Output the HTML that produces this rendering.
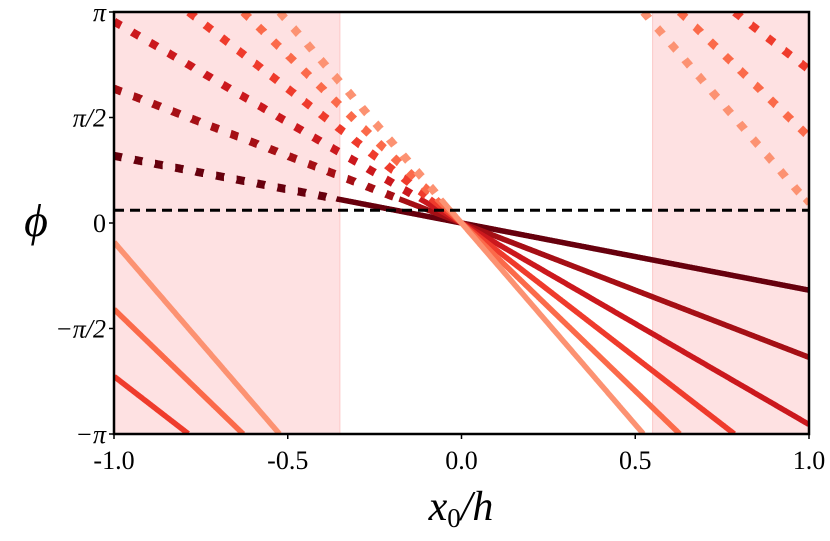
<!DOCTYPE html>
<html><head><meta charset="utf-8"><style>
body{margin:0;background:#fff}
svg text{font-family:"Liberation Serif",serif;fill:#000}
</style></head><body>
<svg width="830" height="536">
<g id="plot"></g>
</svg>
<script>
const slopes=[1,2,3,4,5,6];
const colors=["#67000d","#a50f15","#cb181d","#ef3b2c","#fb6a4a","#fc9272"];
const shadeRanges=[[-1,-0.35],[0.55,1]];
const refLevel=0.19;
const xTicks=[-1,-0.5,0,0.5,1];
const xTickLabels=["-1.0","-0.5","0.0","0.5","1.0"];
const yTicks=[Math.PI,Math.PI/2,0,-Math.PI/2,-Math.PI];
const yTickLabels=["π","π/2","0","−π/2","−π"];
const X0=114,X1=809,Y0=12,Y1=434;
const sx=x=>X0+(x+1)/2*(X1-X0);
const sy=p=>Y1-(p+Math.PI)/(2*Math.PI)*(Y1-Y0);
const NS="http://www.w3.org/2000/svg";
const g=document.getElementById('plot');
function mk(t,a){const e=document.createElementNS(NS,t);for(const k in a)e.setAttribute(k,a[k]);g.appendChild(e);return e;}
const defs=mk('clipPath',{id:'clip'});
const cr=document.createElementNS(NS,'rect');cr.setAttribute('x',X0);cr.setAttribute('y',Y0);cr.setAttribute('width',X1-X0);cr.setAttribute('height',Y1-Y0);defs.appendChild(cr);
shadeRanges.forEach((r,i)=>{const e=mk('rect',{x:sx(r[0]),y:Y0,width:sx(r[1])-sx(r[0]),height:Y1-Y0,fill:'#fee1e2',stroke:'#fcc8c8','stroke-width':1});

});
const lg=mk('g',{'clip-path':'url(#clip)'});
function wrap(p){while(p>Math.PI)p-=2*Math.PI;while(p<-Math.PI)p+=2*Math.PI;return p;}
const thr=0.36;
slopes.forEach((k,i)=>{
  const N=2000;let segs=[];let cur=null;
  for(let j=0;j<=N;j++){const x=-1+2*j/N;const raw=-k*x;const p=wrap(raw);const dot=p>thr;
    if(cur&&(Math.abs(p-cur.lp)>Math.PI||cur.dot!==dot)){segs.push(cur);cur=null;}
    if(!cur)cur={dot:dot,pts:[]};cur.pts.push([sx(x),sy(p)]);cur.lp=p;}
  if(cur)segs.push(cur);
  segs.forEach(s=>{if(s.pts.length<2)return;
    const e=document.createElementNS(NS,'polyline');
    e.setAttribute('points',s.pts.map(q=>q[0].toFixed(1)+','+q[1].toFixed(1)).join(' '));
    e.setAttribute('fill','none');e.setAttribute('stroke',colors[i]);
    if(s.dot){e.setAttribute('stroke-dasharray','8,13');e.setAttribute('stroke-width',8);}
    else e.setAttribute('stroke-width',5.5);
    
    
    lg.appendChild(e);});
});
const dl=mk('line',{x1:X0,x2:X1,y1:sy(refLevel),y2:sy(refLevel),stroke:'#000','stroke-width':3,'stroke-dasharray':'10,6'});


const fr=mk('rect',{x:X0,y:Y0,width:X1-X0,height:Y1-Y0,fill:'none',stroke:'#000','stroke-width':2.5});


xTicks.forEach((v,i)=>{mk('line',{x1:sx(v),x2:sx(v),y1:Y1,y2:Y1+5,stroke:'#000','stroke-width':1.5});
 const t=mk('text',{x:sx(v),y:Y1+35,'text-anchor':'middle','font-size':26});t.textContent=xTickLabels[i];
 
 });
yTicks.forEach((v,i)=>{mk('line',{x1:X0-5,x2:X0,y1:sy(v),y2:sy(v),stroke:'#000','stroke-width':1.5});
 const t=mk('text',{x:X0-8,y:sy(v)+9,'text-anchor':'end','font-size':26,'font-style':i==2?'normal':'italic'});t.textContent=yTickLabels[i];
 
 });
const yl=mk('text',{x:36,y:236,'text-anchor':'middle','font-size':46,'font-style':'italic'});yl.textContent='ϕ';


const xl=mk('text',{x:461,y:520,'text-anchor':'middle','font-size':42,'font-style':'italic'});xl.innerHTML='x<tspan font-size="27" dy="7" font-style="normal">0</tspan><tspan dy="-7">/h</tspan>';


</script>
</body></html>
